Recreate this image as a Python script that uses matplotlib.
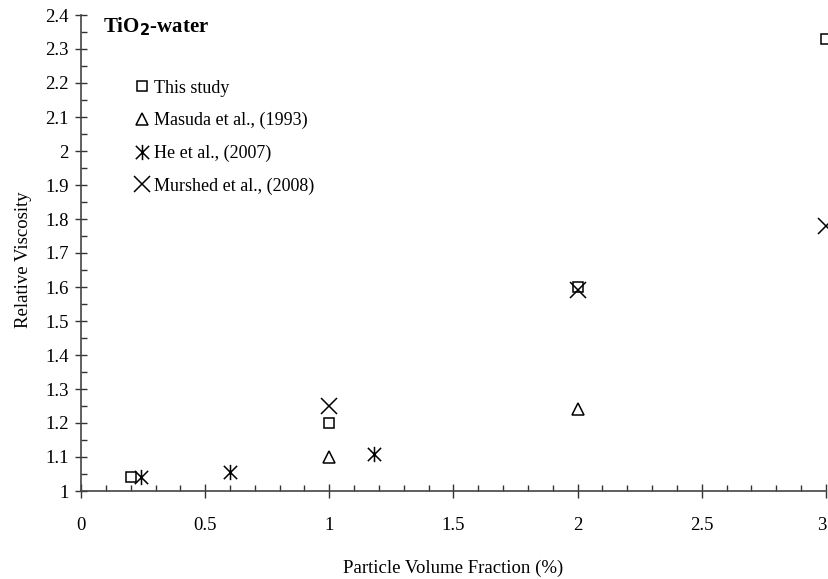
import matplotlib
matplotlib.use("Agg")
import matplotlib.pyplot as plt
from matplotlib.path import Path
from matplotlib.ticker import MultipleLocator, FuncFormatter

plt.rcParams['font.family'] = ['Liberation Serif', 'DejaVu Serif']

# Relative viscosity of TiO2-water nanofluids vs particle volume fraction (%)
this_x = [0.2, 1.0, 2.0, 3.0]
this_y = [1.04, 1.20, 1.60, 2.33]

masuda_x = [1.0, 2.0]
masuda_y = [1.10, 1.24]

he_x = [0.24, 0.6, 1.18]
he_y = [1.04, 1.055, 1.11]

murshed_x = [1.0, 2.0, 3.0]
murshed_y = [1.25, 1.59, 1.78]

labels = ["This study", "Masuda et al., (1993)", "He et al., (2007)", "Murshed et al., (2008)"]

# six-armed asterisk: an X plus a vertical stroke
star_path = Path(
    [(-1, -1), (1, 1), (-1, 1), (1, -1), (0, -1.15), (0, 1.15)],
    [Path.MOVETO, Path.LINETO, Path.MOVETO, Path.LINETO, Path.MOVETO, Path.LINETO],
)

fig = plt.figure(figsize=(8.29, 5.79), dpi=100)
ax = fig.add_axes([81 / 829, 88 / 579, 745 / 829, 476 / 579])

kw = dict(linestyle='none', color='black', markerfacecolor='none', clip_on=False, zorder=3)
ax.plot(this_x, this_y, marker='s', markersize=7, markeredgewidth=1.1, label=labels[0], **kw)
ax.plot(masuda_x, masuda_y, marker='^', markersize=8, markeredgewidth=1.1, label=labels[1], **kw)
ax.plot(he_x, he_y, marker=star_path, markersize=11, markeredgewidth=1.1, label=labels[2], **kw)
ax.plot(murshed_x, murshed_y, marker='x', markersize=11, markeredgewidth=1.1, label=labels[3], **kw)

ax.set_xlim(0, 3)
ax.set_ylim(1, 2.4)

for s in ['top', 'right']:
    ax.spines[s].set_visible(False)
for s in ['left', 'bottom']:
    ax.spines[s].set_color('#444444')
    ax.spines[s].set_linewidth(1.2)

ax.xaxis.set_major_locator(MultipleLocator(0.5))
ax.xaxis.set_minor_locator(MultipleLocator(0.1))
ax.yaxis.set_major_locator(MultipleLocator(0.1))
ax.yaxis.set_minor_locator(MultipleLocator(0.05))

fmt = FuncFormatter(lambda v, p: ('%g' % round(v, 2)))
ax.xaxis.set_major_formatter(fmt)
ax.yaxis.set_major_formatter(fmt)

fs = 13.5
ax.tick_params(axis='x', which='major', direction='inout', length=10, width=1, colors='#333333',
               labelcolor='black', labelsize=fs, pad=14)
ax.tick_params(axis='x', which='minor', direction='in', length=4, width=1, colors='#333333')
ax.tick_params(axis='y', which='major', direction='inout', length=8, width=1, colors='#333333',
               labelcolor='black', labelsize=fs, pad=5)
ax.tick_params(axis='y', which='minor', direction='in', length=4, width=1, colors='#333333')

ax.set_xlabel("Particle Volume Fraction (%)", fontsize=fs, labelpad=18)
ax.set_ylabel("Relative Viscosity", fontsize=fs)
ax.yaxis.set_label_coords(-0.066, 0.485)

# keep the last x tick label inside the figure
fig.canvas.draw()
for t in ax.xaxis.get_major_ticks():
    if abs(t.get_loc() - 3.0) < 1e-9:
        t.label1.set_horizontalalignment('right')

ax.text(0.09, 2.365, r"TiO$_\mathbf{2}$-water", fontsize=15, fontweight='bold',
        ha='left', va='center')

leg = ax.legend(loc='upper left', bbox_to_anchor=(0.06, 0.879), frameon=False,
                fontsize=13, handlelength=1.0, handletextpad=0.15, labelspacing=0.85,
                borderaxespad=0)

fig.savefig("out.png", dpi=100)
